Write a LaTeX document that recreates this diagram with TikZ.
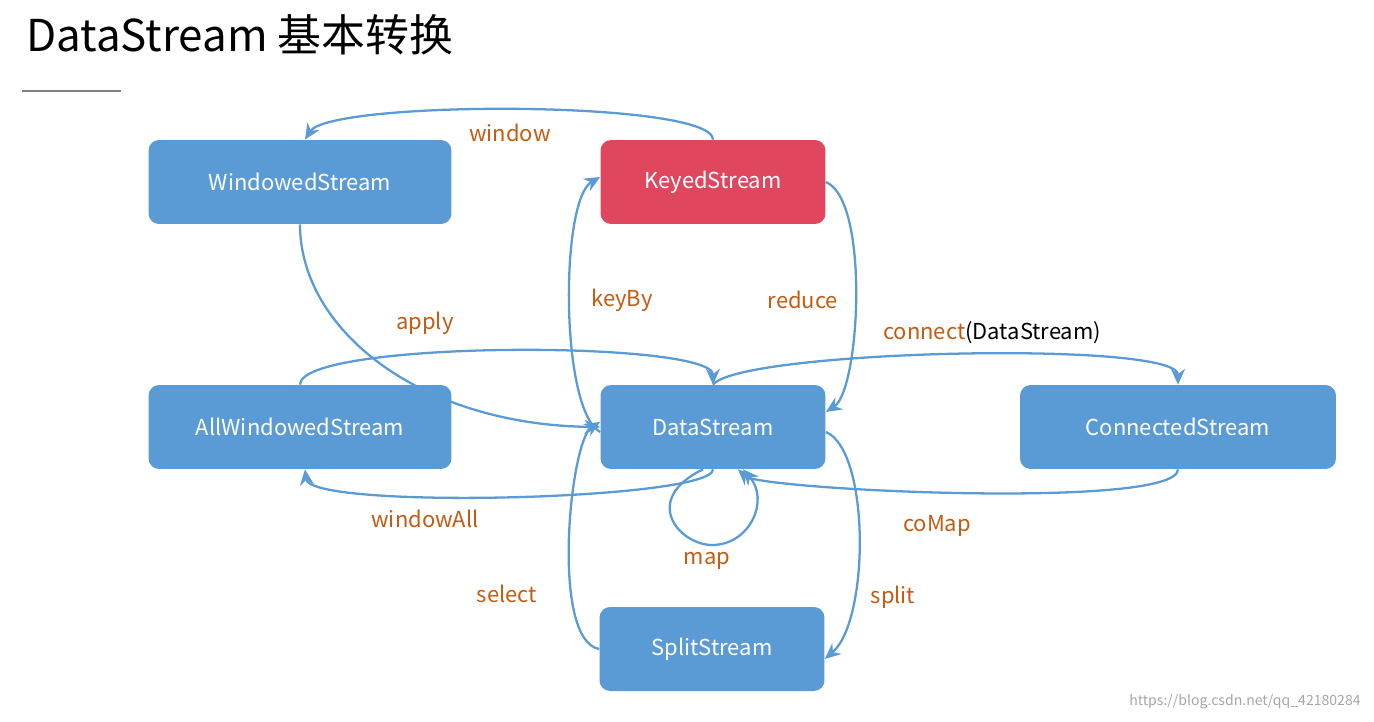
\documentclass[tikz,border=0pt]{standalone}
\usepackage{fontspec}
\setmainfont{Noto Sans CJK SC}
\usetikzlibrary{arrows.meta}
\definecolor{bx}{HTML}{5B9BD5}
\definecolor{rd}{HTML}{E0475F}
\definecolor{lb}{HTML}{C55A11}
\begin{document}
\begin{tikzpicture}[x=0.02cm,y=-0.02cm,
 box/.style={fill=bx,rounded corners=6pt,text=white,font=\fontsize{12.5}{14}\selectfont,minimum height=1.68cm,inner sep=0},
 ar/.style={draw=bx,line width=1.3pt,-{Stealth[length=9pt,width=8pt]}},
 lab/.style={text=lb,font=\fontsize{12.5}{14}\selectfont}]
\useasboundingbox (0,0) rectangle (1374,721);
\node[anchor=west,font=\fontsize{25}{28}\selectfont] (title) at (20,35) {DataStream 基本转换};
\draw[gray,line width=0.8pt] (22,91) -- (121,91);
\node[box,minimum width=6.06cm] (W) at (300,182) {WindowedStream};
\node[box,minimum width=4.5cm,fill=rd] (K) at (713,182) {KeyedStream};
\node[box,minimum width=6.06cm] (A) at (300,427) {AllWindowedStream};
\node[box,minimum width=4.5cm] (D) at (713,427) {DataStream};
\node[box,minimum width=6.32cm] (C) at (1178,427) {ConnectedStream};
\node[box,minimum width=4.5cm] (S) at (712,649) {SplitStream};
% window
\draw[ar] (K.north) .. controls (713,100) and (330,100) .. ([xshift=0.1cm]W.north);
\node[lab] (lw) at (510,133) {window};
% apply
\draw[ar] (W.south) .. controls (300,330) and (420,425) .. (D.west);
\draw[ar] (A.north) .. controls (300,340) and (713,340) .. (D.north);
\node[lab] (la) at (425,323) {apply};
% keyBy
\draw[ar] ([yshift=-0.1cm]D.west) .. controls (560,410) and (560,200) .. ([yshift=0.1cm]K.west);
\node[lab] (lk) at (622,300) {keyBy};
% reduce
\draw[ar] (K.east) .. controls (870,200) and (860,390) .. ([yshift=0.3cm]D.east);
\node[lab] (lr) at (803,300) {reduce};
% connect
\draw[ar] (D.north) .. controls (740,350) and (1178,340) .. (C.north);
\node[lab,anchor=west] (lc) at (877,333) {connect\textcolor{black}{(DataStream)}};
% windowAll
\draw[ar] (D.south) .. controls (713,500) and (310,510) .. ([xshift=0.1cm]A.south);
\node[lab] (lwa) at (425,519) {windowAll};
% coMap
\draw[ar] (C.south) .. controls (1178,510) and (760,490) .. ([xshift=0.5cm]D.south);
\node[lab] (lcm) at (937,526) {coMap};
% map
\draw[ar] ([xshift=-0.2cm]D.south) .. controls (640,500) and (680,545) .. (712,545) .. controls (750,545) and (770,500) .. ([xshift=0.6cm]D.south);
\node[lab] (lm) at (707,561) {map};
% split
\draw[ar] ([yshift=-0.1cm]D.east) .. controls (870,450) and (870,620) .. ([yshift=-0.2cm]S.east);
\node[lab] (ls) at (893,597) {split};
% select
\draw[ar] (S.west) .. controls (550,640) and (570,440) .. ([yshift=0.1cm]D.west);
\node[lab] (lse) at (507,594) {select};
\node[text=gray!70,font=\fontsize{8}{9}\selectfont] (url) at (1245,702) {https://blog.csdn.net/qq\_42180284};
\end{tikzpicture}
\end{document}
